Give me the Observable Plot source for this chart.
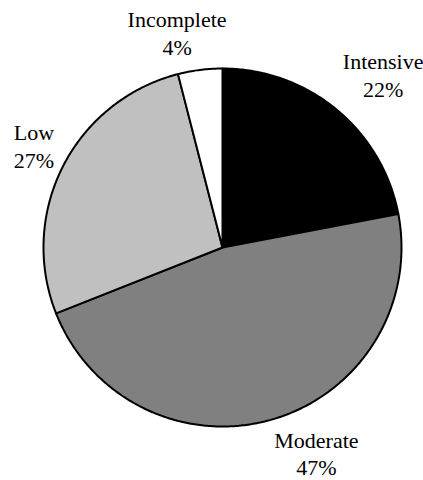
<!DOCTYPE html>
<html><head><meta charset="utf-8">
<script src="https://cdn.jsdelivr.net/npm/d3@7"></script>
<script src="https://cdn.jsdelivr.net/npm/@observablehq/plot@0.6"></script>
<style>body{margin:0;background:#fff}</style>
</head><body><div id="chart"></div>
<script>
// Data
const categories = ["Intensive", "Moderate", "Low", "Incomplete"];
const shares = [22, 47, 27, 4];
const sliceColors = ["#000000", "#808080", "#c0c0c0", "#ffffff"];

// Layout
const W = 423, H = 480, cx = 222, cy = 247, R = 179, gap = 10;
const fontSize = 22, lineHeight = 1.27, fontFamily = "'Liberation Serif', 'Times New Roman', serif";

const data = categories.map((c, i) => ({category: c, value: shares[i], color: sliceColors[i]}));
const arcs = d3.pie().sort(null).value(d => d.value)(data);

const pt = (a, r) => [cx + r * Math.sin(a), cy - r * Math.cos(a)];

const slices = arcs.map(a => {
  const ring = [[cx, cy]];
  const n = Math.max(4, Math.ceil((a.endAngle - a.startAngle) / 0.01));
  for (let k = 0; k <= n; k++) ring.push(pt(a.startAngle + (a.endAngle - a.startAngle) * k / n, R));
  ring.push([cx, cy]);
  return {type: "Feature", properties: a.data, geometry: {type: "Polygon", coordinates: [ring]}};
});

// Outside-end label placement: push the label box off the rim along the slice's mid angle,
// keeping the whole label block inside the frame
const ctx = document.createElement("canvas").getContext("2d");
ctx.font = `${fontSize}px ${fontFamily}`;
const push = (v, k) => Math.sign(v) * Math.min(1, Math.abs(v) * k);
const labels = arcs.map(a => {
  const text = `${a.data.category}\n${a.data.value}%`;
  const lines = text.split("\n");
  const w = Math.max(...lines.map(l => ctx.measureText(l).width));
  const h = lines.length * fontSize * lineHeight;
  const m = (a.startAngle + a.endAngle) / 2;
  const ux = Math.sin(m), uy = -Math.cos(m);
  const [px, py] = pt(m, R + gap);
  const x = Math.max(w / 2, Math.min(W - w / 2, px + push(ux, 3.5) * w / 2));
  const y = Math.max(h / 2, Math.min(H - h / 2, py + push(uy, 1.3) * h / 2));
  return {x, y, text};
});

const chart = Plot.plot({
  width: W, height: H, margin: 0,
  projection: d3.geoIdentity(),
  color: {type: "identity"},
  style: {fontFamily, background: "#fff"},
  marks: [
    Plot.geo(slices, {fill: d => d.properties.color, stroke: "#000", strokeWidth: 2, strokeLinejoin: "round"}),
    Plot.text(labels, {x: "x", y: "y", text: "text", fontSize, lineHeight, textAnchor: "middle", lineAnchor: "middle", fill: "#000"})
  ]
});
document.getElementById("chart").append(chart);
</script>
</body></html>
